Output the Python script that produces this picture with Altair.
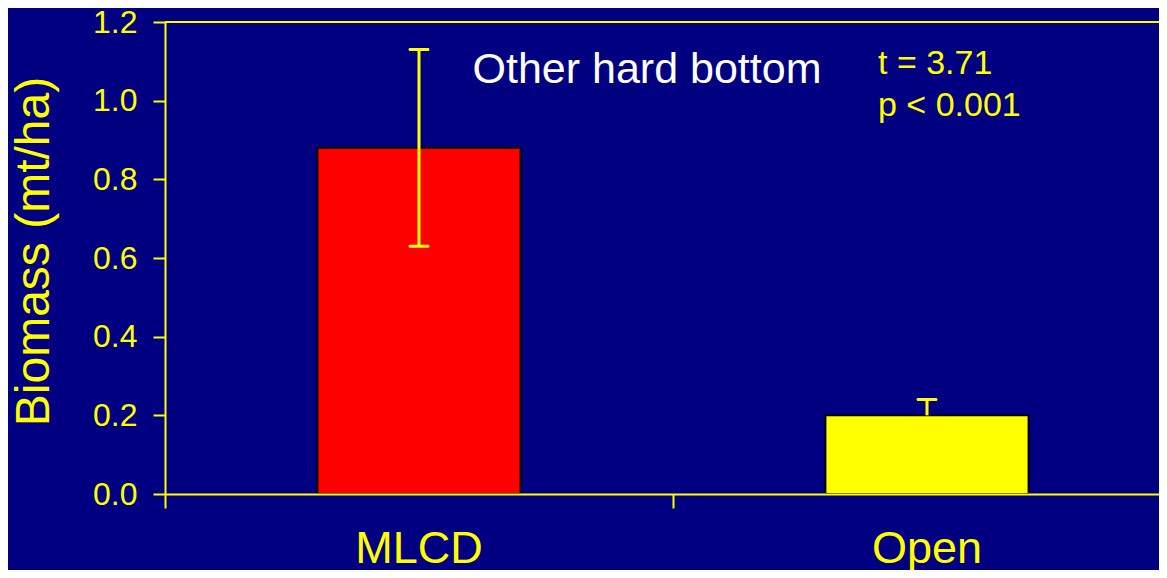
import altair as alt
import pandas as pd

groups = ["MLCD", "Open"]
means = [0.88, 0.20]
err_low = [0.63, 0.20]
err_high = [1.13, 0.24]
bar_colors = ["#FF0000", "#FFFF00"]
cap_groups = ["MLCD", "MLCD", "Open"]
cap_values = [0.63, 1.13, 0.24]
y_ticks = [0.0, 0.2, 0.4, 0.6, 0.8, 1.0, 1.2]
panel_title = ["Other hard bottom"]
stats_line1 = ["t = 3.71"]
stats_line2 = ["p < 0.001"]
y_title = "Biomass (mt/ha)"

NAVY = "#000080"
YEL = "#FFFF00"
FONT = "Liberation Sans"

df = pd.DataFrame({"group": groups, "mean": means, "lo": err_low, "hi": err_high})
caps = pd.DataFrame({"group": cap_groups, "v": cap_values})

xscale = alt.Scale(domain=groups, range=[0, 1016], paddingInner=0.6, paddingOuter=0.3)
yscale = alt.Scale(domain=[0, 1.2], nice=False, zero=True)

x_axis = alt.Axis(title=None, labels=False, tickOffset=-254, tickSize=14,
                  tickColor=YEL, tickWidth=2, domainColor=YEL, domainWidth=2,
                  grid=False, zindex=1)
y_axis = alt.Axis(title=y_title, values=y_ticks, format=".1f", labelFontSize=32,
                  labelColor=YEL, labelFont=FONT, labelPadding=16, tickSize=12,
                  tickColor=YEL, tickWidth=2, domainColor=YEL, domainWidth=2,
                  grid=False, titleColor=YEL, titleFont=FONT, titleFontSize=48,
                  titleFontWeight="normal", titleAngle=-90, titleX=-131, titleY=229,
                  titleBaseline="middle", titleAlign="center", zindex=1)

x_enc = alt.X("group:N", scale=xscale, sort=groups, axis=x_axis)

base = alt.Chart(df)

bars = base.mark_bar(stroke="black", strokeWidth=2).encode(
    x=x_enc,
    y=alt.Y("mean:Q", scale=yscale, axis=y_axis),
    color=alt.Color("group:N", scale=alt.Scale(domain=groups, range=bar_colors), legend=None),
)

top_rule = base.mark_rule(color=YEL, strokeWidth=2).encode(y=alt.datum(1.2))

err = base.mark_rule(color=YEL, strokeWidth=3).encode(
    x=alt.X("group:N", sort=groups),
    y="lo:Q",
    y2="hi:Q",
)

cap_marks = alt.Chart(caps).mark_tick(color=YEL, thickness=3, size=21, cornerRadius=1.5, opacity=1).encode(
    x=alt.X("group:N", sort=groups),
    y="v:Q",
)

x_labels = base.mark_text(
    color=YEL, font=FONT, fontSize=45, align="center", baseline="alphabetic"
).encode(x=alt.X("group:N", sort=groups), y=alt.value(541), text="group:N")

title_txt = alt.Chart(pd.DataFrame({"t": panel_title})).mark_text(
    color="white", font=FONT, fontSize=43, align="center", baseline="alphabetic"
).encode(x=alt.value(482), y=alt.value(61), text="t:N")

stat1 = alt.Chart(pd.DataFrame({"t": stats_line1})).mark_text(
    color=YEL, font=FONT, fontSize=34, align="left", baseline="alphabetic"
).encode(x=alt.value(713), y=alt.value(52), text="t:N")

stat2 = alt.Chart(pd.DataFrame({"t": stats_line2})).mark_text(
    color=YEL, font=FONT, fontSize=34, align="left", baseline="alphabetic"
).encode(x=alt.value(713), y=alt.value(94), text="t:N")

chart = alt.layer(top_rule, bars, err, cap_marks, x_labels, title_txt, stat1, stat2).properties(
    width=994, height=472,
    background=NAVY,
    padding={"left": 157, "top": 14, "right": 0, "bottom": 76},
    autosize=alt.AutoSizeParams(type="none"),
).configure_view(stroke=None)

chart.save("out.html", embed_options={"renderer": "svg", "actions": False})
